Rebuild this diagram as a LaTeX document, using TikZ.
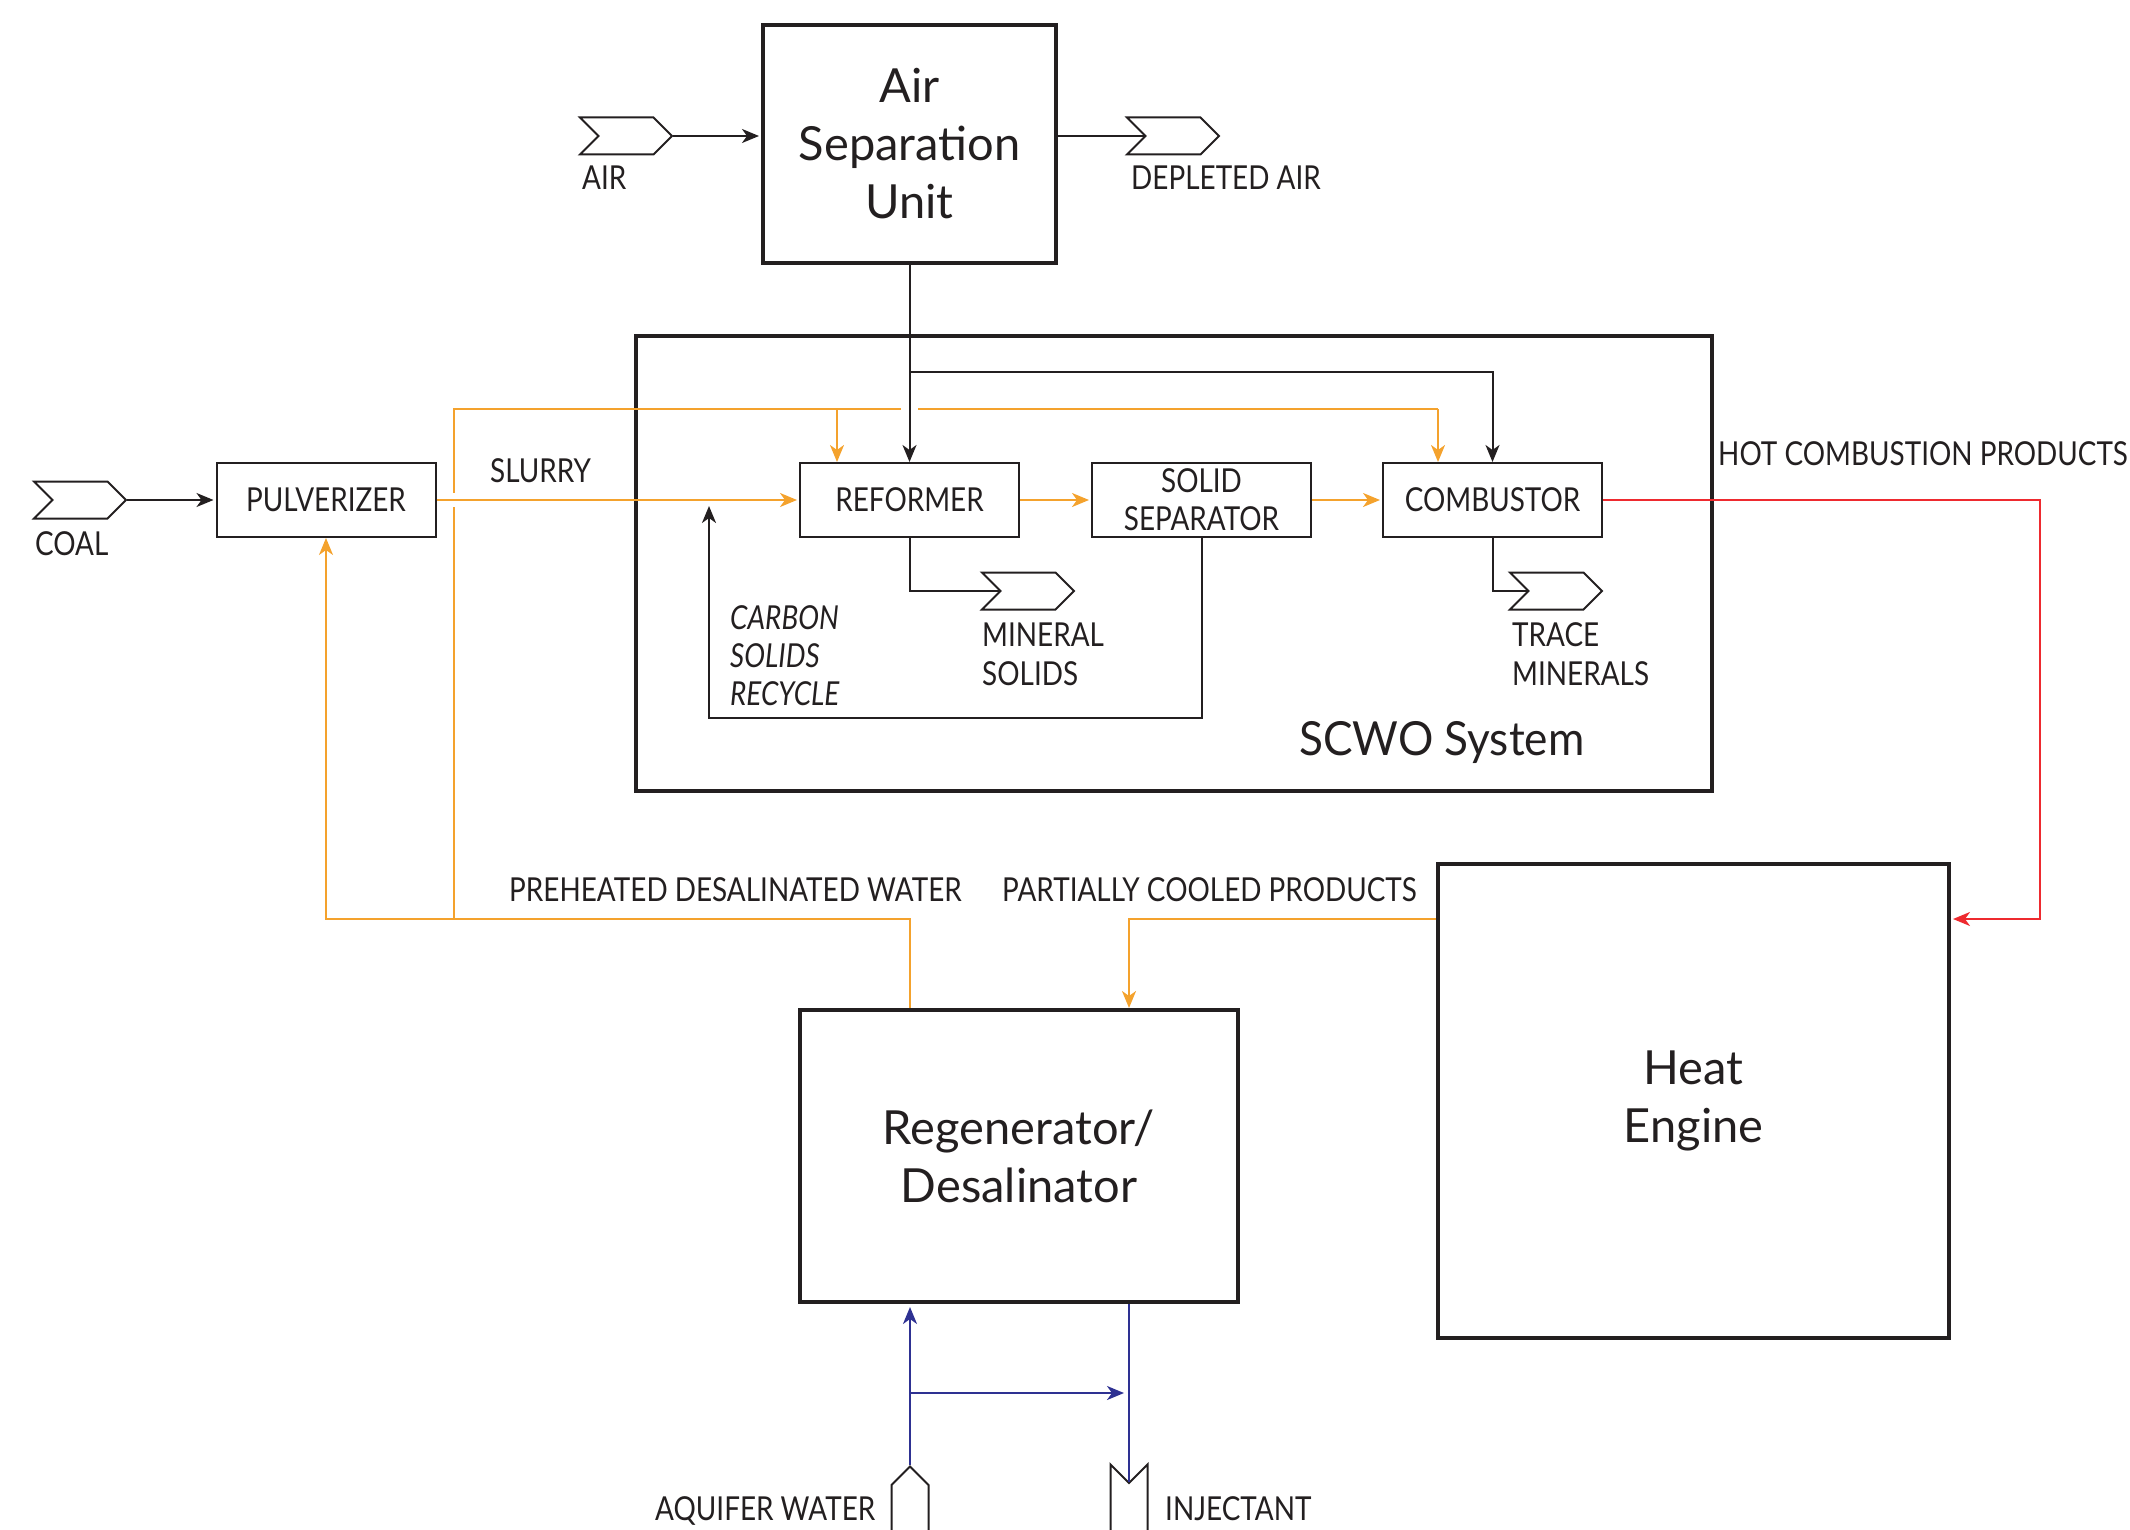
\documentclass[tikz,border=0pt]{standalone}
\usepackage{fontspec}
\setmainfont{Lato}
\newfontfamily\labelfont[FakeStretch=0.845]{Lato}
\newfontfamily\titlefont[FakeStretch=0.94]{Lato}
\usetikzlibrary{arrows.meta,shapes.symbols}
\definecolor{ink}{HTML}{231F20}
\definecolor{flow}{HTML}{F4A22D}
\definecolor{hot}{HTML}{EE2A2F}
\definecolor{water}{HTML}{2E3192}
\tikzset{
  unitbox/.style={draw=ink, line width=2pt, minimum width=219pt, minimum height=74pt, inner sep=0pt,
    align=center, font=\labelfont\fontsize{33}{38}\selectfont, text=ink},
  bigbox/.style={draw=ink, line width=4pt, inner sep=0pt, align=center,
    font=\fontsize{47}{58}\selectfont, text=ink},
  chevron/.style={draw=ink, line width=2pt, shape=signal, signal pointer angle=90,
    minimum width=92pt, minimum height=37pt, inner sep=0pt},
  lbl/.style={font=\labelfont\fontsize{33}{38.5}\selectfont, inner sep=0pt, text=ink,
    anchor=base west, align=left},
  wire/.style={draw=ink, line width=2pt},
  flowline/.style={draw=flow, line width=2pt},
  hotline/.style={draw=hot, line width=2pt},
  waterline/.style={draw=water, line width=2pt},
  arr/.style={-{Stealth[length=17pt,width=14pt,inset=5pt]}},
}
\begin{document}
\begin{tikzpicture}[x=1pt,y=-1pt]
\path[use as bounding box] (0,0) rectangle (2130,1530);
\clip (0,0) rectangle (2130,1530);

% boxes
\node[bigbox, minimum width=293pt, minimum height=238pt] (asu) at (909.5,144) {Air\\Separation\\Unit};
\node[draw=ink, line width=4pt, minimum width=1076pt, minimum height=455pt, inner sep=0pt] (scwo) at (1174,563.5) {};
\node[unitbox] (pulv) at (326,500) {PULVERIZER};
\node[unitbox] (reformer) at (909.5,500) {REFORMER};
\node[unitbox] (solidsep) at (1201.5,500) {SOLID\\SEPARATOR};
\node[unitbox] (combustor) at (1492.5,500) {COMBUSTOR};
\node[bigbox, minimum width=511pt, minimum height=474pt] (heat) at (1693.5,1101) {Heat\\Engine};
\node[bigbox, minimum width=438pt, minimum height=292pt] (regen) at (1019,1156) {Regenerator/\\Desalinator};

% chevrons
\node[chevron, signal to=east, signal from=west] (airchev) at (626,136) {};
\node[chevron, signal to=east, signal from=west] (depchev) at (1173,136) {};
\node[chevron, signal to=east, signal from=west] (coalchev) at (80,500) {};
\node[chevron, signal to=east, signal from=west] (minchev) at (1028,591) {};
\node[chevron, signal to=east, signal from=west] (tracechev) at (1556,591) {};
\node[draw=ink, line width=2pt, shape=signal, signal pointer angle=90, signal to=north, signal from=nowhere,
  minimum width=37pt, minimum height=90pt, inner sep=0pt] (aquchev) at (910,1530) {};
\node[draw=ink, line width=2pt, shape=signal, signal pointer angle=90, signal to=nowhere, signal from=north,
  minimum width=37pt, minimum height=90pt, inner sep=0pt] (injchev) at (1129,1528) {};

% labels
\node[lbl] (airlbl) at (582,190) {AIR};
\node[lbl] (deplbl) at (1131,190) {DEPLETED AIR};
\node[lbl] (coallbl) at (35,555) {COAL};
\node[lbl] (slurrylbl) at (490,482) {SLURRY};
\node[lbl, font=\labelfont\itshape\fontsize{33}{38}\selectfont] (carbonlbl) at (730,705) {CARBON\\SOLIDS\\RECYCLE};
\node[lbl] (minlbl) at (982,685) {MINERAL\\SOLIDS};
\node[lbl] (tracelbl) at (1512,685) {TRACE\\MINERALS};
\node[lbl, font=\titlefont\fontsize{47}{58}\selectfont] (scwolbl) at (1299,755) {SCWO System};
\node[lbl] (hotlbl) at (1718,465) {HOT COMBUSTION PRODUCTS};
\node[lbl] (prelbl) at (509,901) {PREHEATED DESALINATED WATER};
\node[lbl] (partlbl) at (1002,901) {PARTIALLY COOLED PRODUCTS};
\node[lbl] (aqulbl) at (655,1520) {AQUIFER WATER};
\node[lbl] (injlbl) at (1165,1520) {INJECTANT};

% coordinates for bends
\coordinate (wtop) at (454,409);
\coordinate (wbot) at (454,919);
\coordinate (rtap) at (837,409);
\coordinate (ctap) at (1438,409);
\coordinate (o2split) at (909.5,372);
\coordinate (o2turn) at (1492.5,372);
\coordinate (hotcorner) at (2040,919);
\coordinate (pcturn) at (1129,919);
\coordinate (phturn) at (910,919);
\coordinate (recyc) at (709,718);
\coordinate (bypass) at (910,1393);
\coordinate (gapa) at (901,409);
\coordinate (gapb) at (918,409);
\coordinate (gapc) at (454,493);
\coordinate (gapd) at (454,507);

% orange water network
\draw[flowline] (wbot) -- (wtop) -- (ctap);
\draw[flowline, arr] (ctap) -- (ctap |- combustor.north);
\draw[flowline, arr] (rtap) -- (rtap |- reformer.north);
\draw[flowline, arr] (phturn |- regen.north) -- (phturn) -| (pulv.south);
\draw[flowline, arr] (pcturn -| heat.west) -- (pcturn) -- (pcturn |- regen.north);
% gaps at crossings
\draw[white, line width=6pt] (gapa) -- (gapb);
\draw[white, line width=6pt] (gapc) -- (gapd);
% slurry chain
\draw[flowline, arr, shorten >=2pt] (pulv.east) -- (reformer.west);
\draw[flowline, arr, shorten >=2pt] (reformer.east) -- (solidsep.west);
\draw[flowline, arr, shorten >=2pt] (solidsep.east) -- (combustor.west);

% black lines
\draw[wire, arr, shorten >=2pt] (airchev.east) -- (airchev.east -| asu.west);
\draw[wire] (depchev.west -| asu.east) -- (depchev.west);
\draw[wire, arr, shorten >=2pt] (coalchev.east) -- (pulv.west);
\draw[wire, arr] (asu.south) -- (reformer.north);
\draw[wire, arr] (o2split) -- (o2turn) -- (combustor.north);
\draw[wire] (reformer.south) |- (minchev.west);
\draw[wire] (combustor.south) |- (tracechev.west);
\draw[wire, arr, shorten >=6pt] (solidsep.south) |- (recyc) -- (recyc |- pulv.east);

% hot products
\draw[hotline, arr, shorten >=2pt] (combustor.east) -| (hotcorner) -- (hotcorner -| heat.east);

% water
\draw[waterline, arr, shorten >=3pt] (aquchev.north) -- (aquchev.north |- regen.south);
\draw[waterline, arr, shorten >=5pt] (bypass) -- (bypass -| injchev.north);
\draw[waterline] (regen.south -| injchev.north) -- (injchev.north);
\end{tikzpicture}
\end{document}
